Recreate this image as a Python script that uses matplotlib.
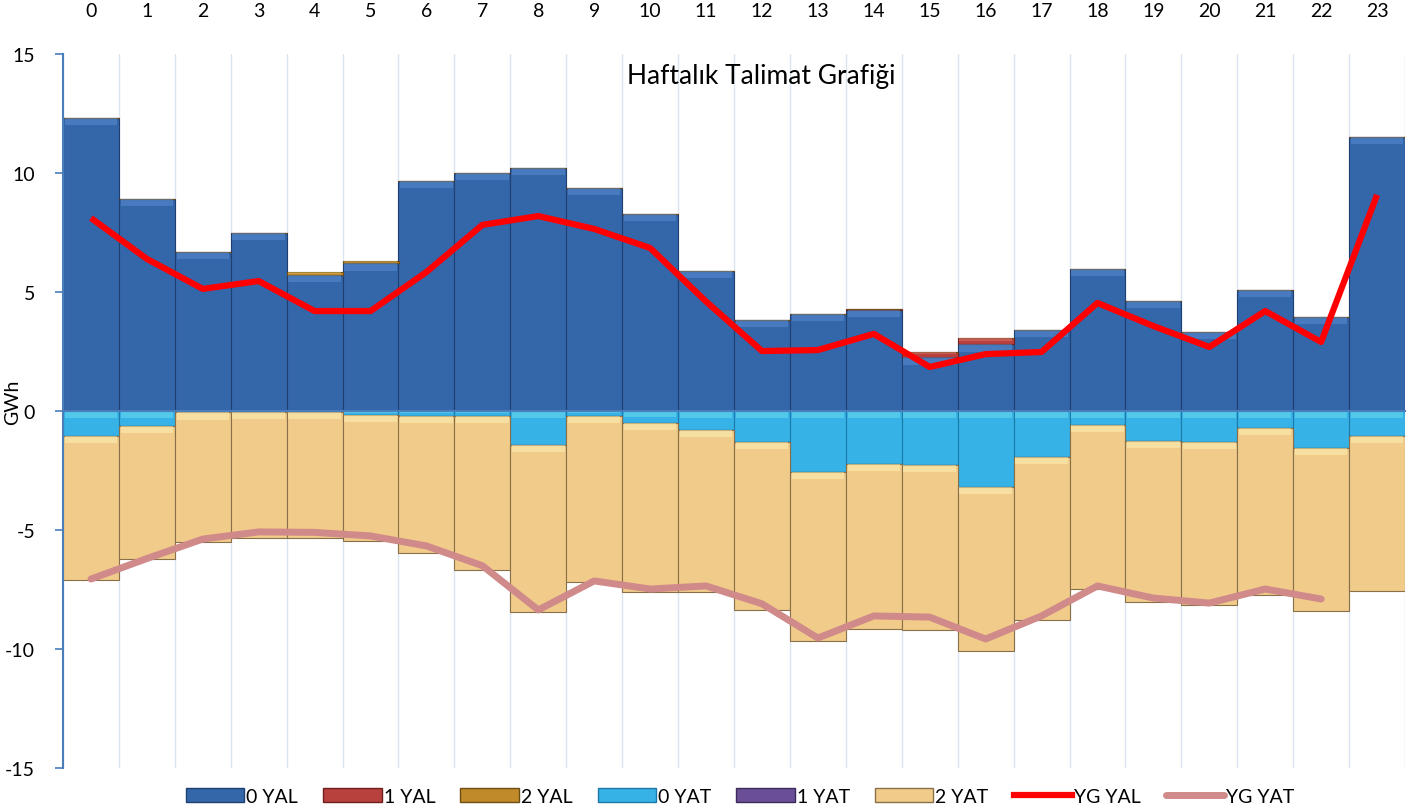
import matplotlib
matplotlib.use("Agg")
import matplotlib.pyplot as plt
import numpy as np
from matplotlib.patches import Patch
from matplotlib.lines import Line2D

plt.rcParams["font.family"] = ["Lato", "DejaVu Sans"]

hours = list(range(24))

# positive side (YAL), GWh
yal_0 = [12.3, 8.9, 6.7, 7.5, 5.7, 6.2, 9.65, 10.0, 10.2, 9.37, 8.28, 5.88,
         3.82, 4.08, 4.25, 2.25, 2.8, 3.4, 5.97, 4.62, 3.32, 5.08, 3.95, 11.5]
yal_1 = [0, 0, 0, 0, 0, 0, 0, 0, 0, 0, 0, 0,
         0, 0, 0.05, 0.25, 0.28, 0, 0, 0, 0, 0, 0, 0]
yal_2 = [0, 0, 0, 0, 0.12, 0.1, 0, 0, 0, 0, 0, 0,
         0, 0, 0, 0, 0, 0, 0, 0, 0, 0, 0, 0]

# negative side (YAT), GWh
yat_0 = [-1.05, -0.63, -0.06, -0.05, -0.05, -0.15, -0.2, -0.2, -1.43, -0.2, -0.5, -0.8,
         -1.3, -2.56, -2.23, -2.27, -3.19, -1.93, -0.59, -1.26, -1.3, -0.71, -1.55, -1.05]
yat_1 = [0] * 24
yat_2 = [-6.05, -5.59, -5.44, -5.29, -5.29, -5.31, -5.75, -6.48, -7.02, -7.0, -7.1, -6.8,
         -7.06, -7.1, -6.93, -6.93, -6.89, -6.85, -6.89, -6.77, -6.85, -7.02, -6.85, -6.51]

yg_yal = [8.11, 6.39, 5.13, 5.46, 4.2, 4.2, 5.84, 7.82, 8.19, 7.65, 6.85, 4.6,
          2.52, 2.56, 3.24, 1.85, 2.39, 2.48, 4.54, 3.57, 2.69, 4.2, 2.9, 9.08]
yg_yat = [-7.06, -6.2, -5.38, -5.08, -5.1, -5.25, -5.67, -6.5, -8.36, -7.14, -7.48, -7.35,
          -8.1, -9.54, -8.61, -8.66, -9.58, -8.61, -7.35, -7.86, -8.07, -7.48, -7.9]

series = [
    ("0 YAL", yal_0, "#3466aa", "#5b8fd3", "#1f3f6e"),
    ("1 YAL", yal_1, "#b8403d", "#e07674", "#6e1f1e"),
    ("2 YAL", yal_2, "#c08a2a", "#e2b860", "#6e4e14"),
    ("0 YAT", yat_0, "#36b2e6", "#6fe0f0", "#1f79a8"),
    ("1 YAT", yat_1, "#6a4f96", "#9a80c8", "#3b2a5a"),
    ("2 YAT", yat_2, "#f0cb8a", "#fff2b8", "#8a7048"),
]

axis_blue = "#4a7ebb"

fig = plt.figure(figsize=(14.1, 8.12), dpi=100)
ax = fig.add_axes([63 / 1410, 1 - 769 / 812, 1342 / 1410, 714 / 812])

x = np.array(hours)
pos_base = np.zeros(24)
neg_base = np.zeros(24)
for name, vals, col, light, edge in series:
    v = np.array(vals, dtype=float)
    if v.max() > 0:
        bottom = pos_base.copy()
        pos_base += v
        top = pos_base
    else:
        top = neg_base.copy()
        neg_base += v
        bottom = neg_base
    h = top - bottom
    ax.bar(x, h, bottom=bottom, width=1.0, color=col, edgecolor=edge,
           linewidth=0.8, zorder=3)
    # bevel highlight on the upper edge of each segment
    band = np.minimum(h * 0.5, 0.3)
    ax.bar(x, band, bottom=top - band, width=0.94, color=light,
           linewidth=0, alpha=0.5, zorder=3.5)

ax.plot(x, yg_yal, color="#ff0000", linewidth=4.5, zorder=5,
        solid_capstyle="butt")
ax.plot(x[:len(yg_yat)], yg_yat, color="#d08a8a", linewidth=5, zorder=5,
        solid_capstyle="round")

ax.set_xlim(-0.5, 23.5)
ax.set_ylim(-15, 15)

# category boundary grid lines
for b in np.arange(-0.5, 24, 1.0):
    ax.axvline(b, color="#dbe5f1", linewidth=1, zorder=1)

ax.set_yticks([-15, -10, -5, 0, 5, 10, 15])
ax.set_yticklabels(["-15", "-10", "-5", "0", "5", "10", "15"])
ax.set_xticks(hours)
ax.set_xticklabels([str(h) for h in hours])

for s in ["top", "right"]:
    ax.spines[s].set_visible(False)
ax.spines["left"].set_color(axis_blue)
ax.spines["left"].set_linewidth(1.5)
ax.spines["left"].set_zorder(6)
ax.spines["bottom"].set_position(("data", 0))
ax.spines["bottom"].set_color(axis_blue)
ax.spines["bottom"].set_linewidth(1.5)
ax.spines["bottom"].set_zorder(6)

ax.tick_params(axis="y", direction="out", length=6, color=axis_blue, width=1.2,
               pad=14, labelsize=14)
ax.tick_params(axis="x", bottom=True, top=False, labelbottom=False, labeltop=True,
               direction="out", length=5, color=axis_blue, width=1.2, pad=20,
               labelsize=14)

ax.text(0.52, 0.97, "Haftalık Talimat Grafiği", transform=ax.transAxes,
        ha="center", va="center", fontsize=19)
fig.text(0.009, 0.505, "GWh", rotation=90, ha="center", va="center", fontsize=14)

handles = [Patch(facecolor=col, edgecolor=edge, label=name)
           for name, _, col, _, edge in series]
handles.append(Line2D([0], [0], color="#ff0000", linewidth=4.5, label="YG YAL"))
handles.append(Line2D([0], [0], color="#d08a8a", linewidth=5, label="YG YAT",
                      solid_capstyle="round"))
fig.legend(handles=handles, loc="center", bbox_to_anchor=(0.525, 0.018), ncol=8,
           frameon=False, fontsize=14, handlelength=3.0, handleheight=0.7,
           handletextpad=0.1, columnspacing=1.3, borderaxespad=0)

fig.savefig("out.png", dpi=100)
